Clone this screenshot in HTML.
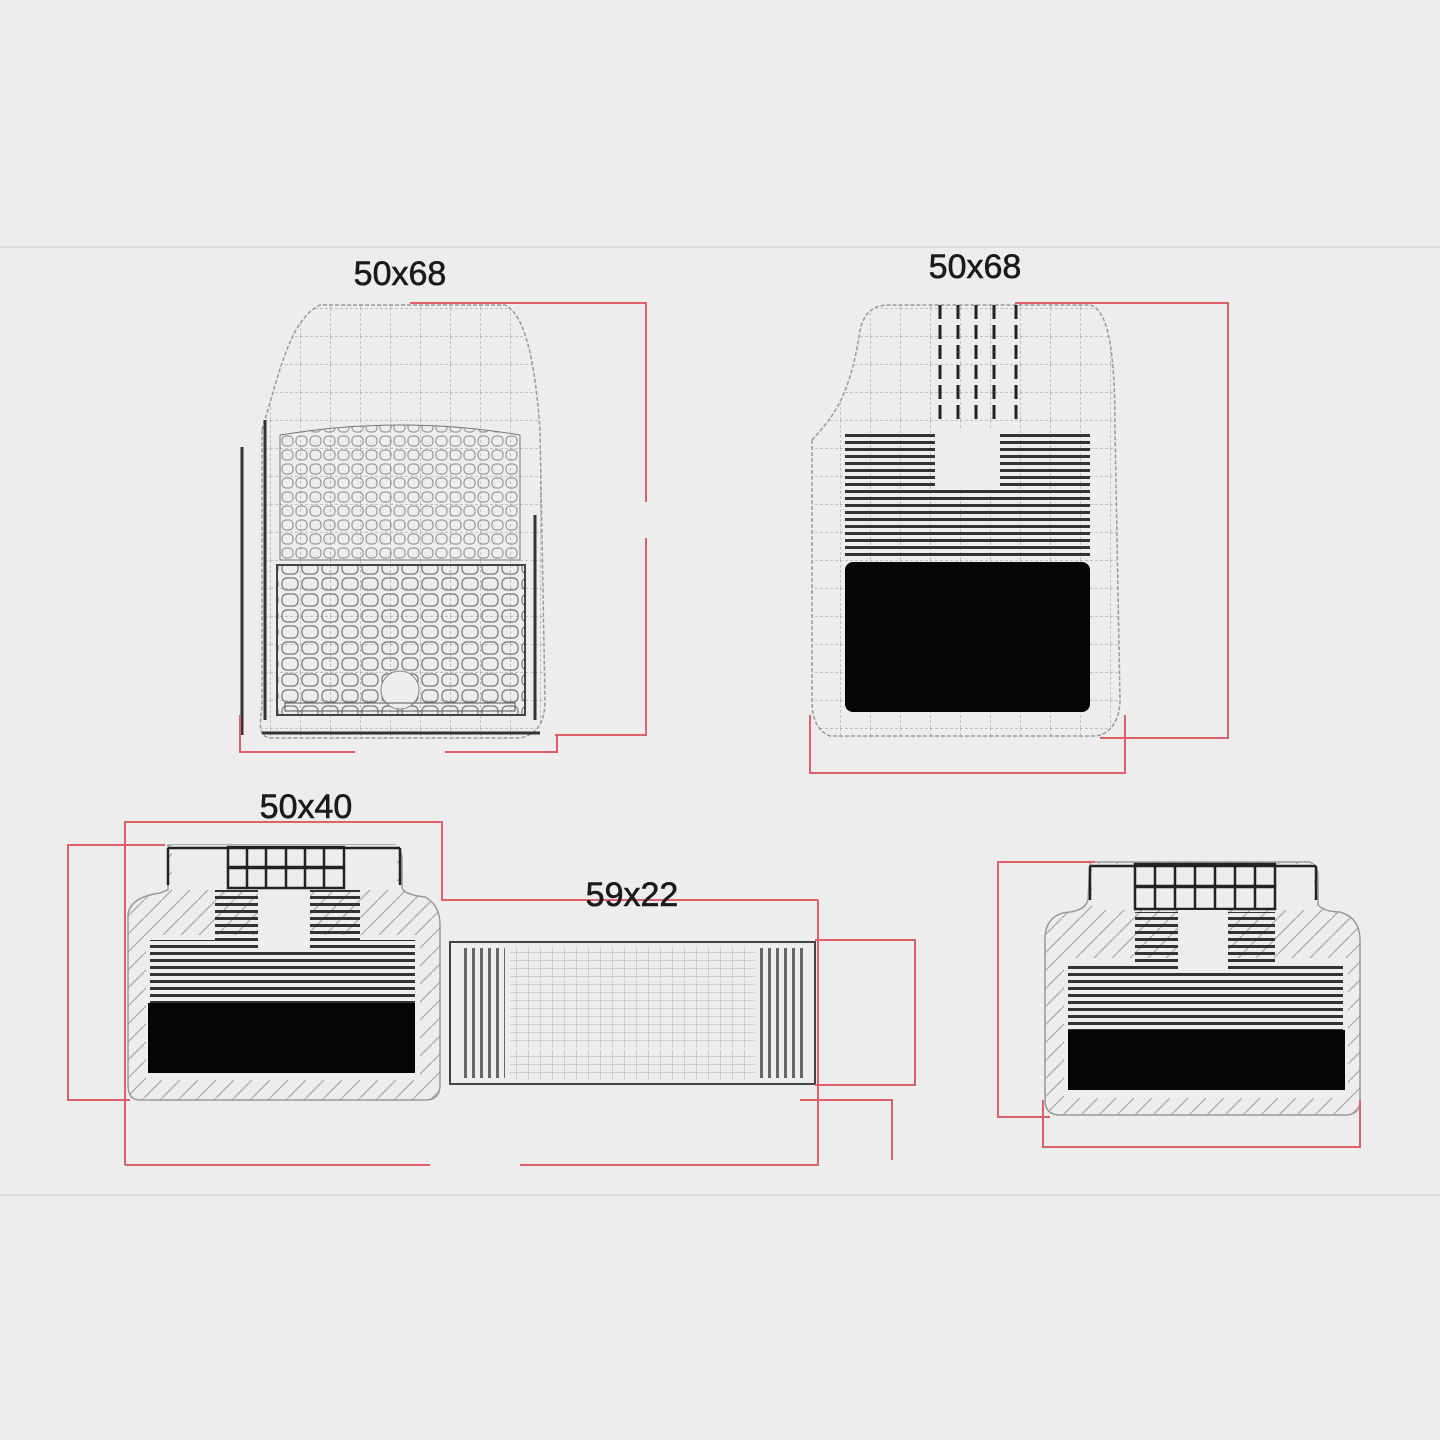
<!DOCTYPE html>
<html><head><meta charset="utf-8"><style>
html,body{margin:0;padding:0;background:#ededed}
svg{display:block}
text{font-family:"Liberation Sans",sans-serif;font-size:34px;fill:#1a1a1a;stroke:#1a1a1a;stroke-width:0.6}
</style></head><body>
<svg width="1440" height="1440" viewBox="0 0 1440 1440" xmlns="http://www.w3.org/2000/svg">
<defs>
<pattern id="cells" width="14" height="14" patternUnits="userSpaceOnUse"><rect x="2" y="2" width="11" height="10" rx="4" fill="none" stroke="#888" stroke-width="1"/></pattern>
<pattern id="cells2" width="20" height="16" patternUnits="userSpaceOnUse"><rect x="2" y="2" width="16" height="12" rx="5" fill="none" stroke="#777" stroke-width="1.2"/></pattern>
<pattern id="hstripe" width="10" height="7" patternUnits="userSpaceOnUse"><rect width="10" height="3" fill="#333"/></pattern>
<pattern id="grid" width="30" height="28" patternUnits="userSpaceOnUse"><path d="M0 0H30M0 0V28" stroke="#999" stroke-width="1" stroke-dasharray="3 2" fill="none"/></pattern>
<pattern id="diag" width="18" height="18" patternUnits="userSpaceOnUse"><path d="M0 18L18 0" stroke="#aaa" stroke-width="1.3"/></pattern>
<pattern id="vstripe" width="8" height="10" patternUnits="userSpaceOnUse"><rect width="3" height="10" fill="#666"/></pattern>
<pattern id="smallgrid" width="12" height="8" patternUnits="userSpaceOnUse"><path d="M0 0H12M0 0V8" stroke="#aaa" stroke-width="1" fill="none"/></pattern>
</defs>
<rect width="1440" height="1440" fill="#ededed"/>
<g stroke="#d8d8d8" stroke-width="1.5"><line x1="0" y1="247" x2="1440" y2="247"/><line x1="0" y1="1195" x2="1440" y2="1195"/></g>

<!-- Mat 1 -->
<path d="M262 430 C280 370 290 320 320 305 L505 305 C525 315 535 360 540 430 L545 700 C545 725 535 735 520 738 L270 738 C255 735 262 720 262 700 Z" fill="url(#grid)" stroke="#999" stroke-width="1.5" stroke-dasharray="4 2"/>
<path d="M280 435 Q400 415 520 435 L520 560 L280 560 Z" fill="url(#cells)" stroke="#777"/>
<rect x="277" y="565" width="248" height="150" fill="url(#cells2)" stroke="#444" stroke-width="2"/>
<circle cx="400" cy="690" r="19" fill="#ededed" stroke="#888"/>
<rect x="285" y="703" width="230" height="8" fill="none" stroke="#555"/>
<g stroke="#333" stroke-width="3"><line x1="265" y1="420" x2="265" y2="720"/><line x1="242" y1="447" x2="242" y2="735"/><line x1="535" y1="515" x2="535" y2="720"/><line x1="262" y1="733" x2="540" y2="733"/></g>
<g stroke="#e0606a" stroke-width="2" fill="none">
<path d="M410 303H646V502M646 538V735H555"/>
<path d="M240 715V752H355M445 752H557V735"/>
</g>
<text x="400" y="285" text-anchor="middle">50x68</text>

<!-- Mat 2 -->
<path d="M812 440 C830 420 850 400 860 330 C865 310 875 305 890 305 L1090 305 C1110 310 1115 360 1115 430 L1120 700 C1120 720 1110 735 1095 736 L830 736 C815 730 812 715 812 700 Z" fill="url(#grid)" stroke="#999" stroke-width="1.5" stroke-dasharray="4 2"/>
<g stroke="#222" stroke-width="3" stroke-dasharray="14 6"><line x1="940" y1="305" x2="940" y2="420"/><line x1="958" y1="305" x2="958" y2="420"/><line x1="976" y1="305" x2="976" y2="420"/><line x1="994" y1="305" x2="994" y2="420"/><line x1="1016" y1="305" x2="1016" y2="420"/></g>
<rect x="845" y="432" width="245" height="128" fill="url(#hstripe)"/>
<rect x="935" y="430" width="65" height="60" fill="#ededed"/>
<rect x="845" y="562" width="245" height="150" rx="8" fill="#050505"/>
<g stroke="#e0606a" stroke-width="2" fill="none">
<path d="M1015 303H1228V738H1100"/>
<path d="M810 715V773H1125V715"/>
</g>
<text x="975" y="278" text-anchor="middle">50x68</text>

<!-- Mat 3 -->
<path d="M168 845H395Q402 850 402 860V888Q405 895 425 897Q440 905 440 925V1085Q440 1100 425 1100H140Q128 1100 128 1085V915Q130 897 160 893L168 890Z" fill="url(#diag)" stroke="#999" stroke-width="1.5"/>
<rect x="172" y="845" width="225" height="45" fill="#ededed"/>
<rect x="146" y="935" width="274" height="145" fill="#ededed"/>
<g fill="none" stroke="#222" stroke-width="2.5"><rect x="228" y="847" width="116" height="20"/><rect x="228" y="868" width="116" height="20"/><path d="M247 847V888M266 847V888M286 847V888M305 847V888M324 847V888"/><path d="M168 848H400M168 848V885M400 848V885"/></g>
<rect x="215" y="890" width="145" height="50" fill="url(#hstripe)"/>
<rect x="150" y="940" width="265" height="63" fill="url(#hstripe)"/>
<rect x="258" y="890" width="52" height="60" fill="#ededed"/>
<rect x="148" y="1003" width="267" height="70" fill="#050505"/>
<g stroke="#e0606a" stroke-width="2" fill="none">
<path d="M125 1165V822H442V900H818"/>
<path d="M165 845H68V1100H130"/>
<path d="M125 1165H430M520 1165H818V900"/>
</g>
<text x="306" y="818" text-anchor="middle">50x40</text>

<!-- Mat 4 -->
<rect x="450" y="942" width="365" height="142" fill="#ededed" stroke="#444" stroke-width="2"/>
<rect x="460" y="948" width="45" height="130" fill="url(#vstripe)"/>
<rect x="760" y="948" width="45" height="130" fill="url(#vstripe)"/>
<rect x="510" y="948" width="245" height="30" fill="url(#smallgrid)"/>
<rect x="510" y="1050" width="245" height="30" fill="url(#smallgrid)"/>
<rect x="510" y="980" width="245" height="68" fill="url(#smallgrid)" opacity="0.8"/>
<g stroke="#e0606a" stroke-width="2" fill="none">
<path d="M815 940H915V1085H815"/>
<path d="M800 1100H892V1160"/>
</g>
<text x="632" y="906" text-anchor="middle">59x22</text>

<!-- Mat 5 -->
<path d="M1090 862H1310Q1318 866 1318 876V905Q1325 912 1340 912Q1360 918 1360 940V1100Q1360 1115 1345 1115H1060Q1045 1115 1045 1100V935Q1048 913 1070 912Q1085 910 1088 900Z" fill="url(#diag)" stroke="#999" stroke-width="1.5"/>
<rect x="1092" y="864" width="222" height="46" fill="#ededed"/>
<rect x="1064" y="958" width="284" height="140" fill="#ededed"/>
<g fill="none" stroke="#222" stroke-width="2.5"><rect x="1135" y="864" width="140" height="22"/><rect x="1135" y="887" width="140" height="22"/><path d="M1155 864V909M1175 864V909M1195 864V909M1215 864V909M1235 864V909M1255 864V909"/><path d="M1090 866H1316M1090 866V900M1316 866V900"/></g>
<rect x="1135" y="912" width="140" height="50" fill="url(#hstripe)"/>
<rect x="1068" y="962" width="275" height="68" fill="url(#hstripe)"/>
<rect x="1178" y="910" width="50" height="60" fill="#ededed"/>
<rect x="1068" y="1030" width="277" height="60" fill="#050505"/>
<g stroke="#e0606a" stroke-width="2" fill="none">
<path d="M1095 862H998V1117H1050"/>
<path d="M1043 1100V1147H1360V1100"/>
</g>
</svg>
</body></html>
